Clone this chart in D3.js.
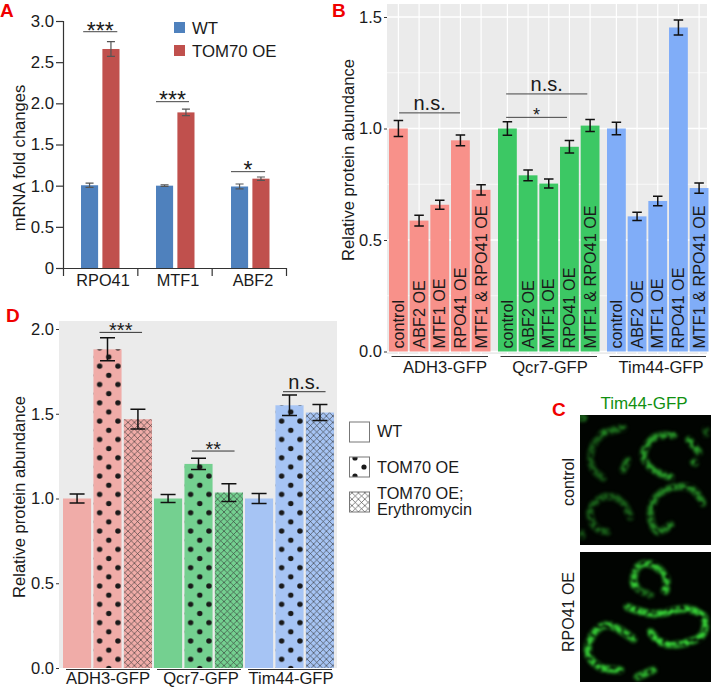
<!DOCTYPE html>
<html><head><meta charset="utf-8">
<script src="https://cdn.jsdelivr.net/npm/d3@7"></script>
<style>html,body{margin:0;padding:0;background:#fff}svg{display:block}text{font-family:"Liberation Sans",Arial,sans-serif;fill:#1a1a1a}</style>
</head><body><div id="chart"></div>
<script>
// ---------- data ----------
const aGroups = ["RPO41","MTF1","ABF2"];
const aSeries = ["WT","TOM70 OE"];
const aWT = [1.005,1.0,0.99];
const aWTErr = [0.025,0.01,0.03];
const aOE = [2.66,1.89,1.085];
const aOEErr = [0.09,0.04,0.02];
const aTicks = [0,0.5,1,1.5,2,2.5,3];
const aTickLabels = ["0","0.5","1.0","1.5","2.0","2.5","3.0"];
const aSig = [["RPO41",0.1,1.65,2.87,"***"],["MTF1",0,1.5,2.02,"***"],["ABF2",0,1.55,1.17,"*"]];

const proteins = ["ADH3-GFP","Qcr7-GFP","Tim44-GFP"];
const bCats = ["control","ABF2 OE","MTF1 OE","RPO41 OE","MTF1 & RPO41 OE"];
const bADH3 = [1.0,0.587,0.658,0.947,0.725];
const bADH3Err = [0.036,0.024,0.02,0.024,0.023];
const bQcr7 = [1.0,0.79,0.753,0.918,1.013];
const bQcr7Err = [0.03,0.024,0.02,0.028,0.027];
const bTim44 = [1.0,0.606,0.675,1.453,0.733];
const bTim44Err = [0.028,0.018,0.021,0.034,0.023];
const bColors = ["#F8918A","#3CC864","#80ADF8"];
const bSig = [["ADH3-GFP",0.5,3.5,1.07,"n.s."],["Qcr7-GFP",0.4,4.4,1.155,"n.s."],["Qcr7-GFP",0.4,3.4,1.05,"*"]];

const dCats = ["WT","TOM70 OE","TOM70 OE; Erythromycin"];
const dADH3 = [1.0,1.88,1.468];
const dADH3Err = [0.027,0.068,0.058];
const dQcr7 = [1.0,1.204,1.035];
const dQcr7Err = [0.024,0.033,0.052];
const dTim44 = [1.0,1.55,1.507];
const dTim44Err = [0.03,0.06,0.047];
const dColors = ["#F0ACA8","#74D090","#A6C4F4"];
const dSig = [["ADH3-GFP",1.2,2.6,1.98,"***"],["Qcr7-GFP",1.25,2.65,1.28,"**"],["Tim44-GFP",1.25,2.65,1.63,"n.s."]];

// fluorescence traces (image units 0-130 in each micrograph)
const cControl = [
 [[23,18],[12,33],[12,52],[23,63]],[[23,18],[34,15],[43,13]],[[43,55],[47,45]],
 [[108,25],[118,37]],[[113,47],[114,48]],[[93,20],[73,23],[63,40],[73,55],[90,62]],
 [[50,102],[40,85],[23,82],[10,95],[15,112],[27,117]],
 [[122,88],[110,73],[90,73],[75,83],[70,102],[77,117],[90,110]],
 [[125,15],[125,19]],[[1,3],[4,3]],[[2,118],[2,121]]
];
const cControlGain = [0.55,0.7,0.75,1,1,1,0.6,0.85,0.5,0.8,0.5];
const cRpo41 = [
 [[53,32],[57,15],[70,12],[85,25],[85,38]],[[70,43],[58,38]],[[54,33],[55,33]],[[84,38],[85,39]],
 [[47,55],[73,62],[107,57],[123,65],[122,82],[100,92],[80,90],[70,80]],
 [[53,87],[27,73],[13,82],[8,102],[20,115],[40,118]],
 [[57,125],[73,118]]
];
const cRpo41Gain = [0.9,0.5,1,1,1,0.95,0.9];

// ---------- helpers ----------
const W=711,H=687;
const svg=d3.select("#chart").append("svg").attr("width",W).attr("height",H);
const defs=svg.append("defs");
function letter(t,x,y){svg.append("text").attr("x",x).attr("y",y).attr("font-size",19).attr("font-weight","bold").style("fill","#F00000").text(t);}
function errorBars(g,pts,color,capW,sw){
  pts.forEach(p=>{
    g.append("path").attr("fill","none").attr("stroke",color).attr("stroke-width",sw)
     .attr("d",`M${p.x-capW/2},${p.yTop}H${p.x+capW/2}M${p.x},${p.yTop}V${p.yBot}M${p.x-capW/2},${p.yBot}H${p.x+capW/2}`);
  });
}
function yAxis(scale,ticks,labels,len,fs,color){
  const ax=d3.axisLeft(scale).tickValues(ticks).tickSize(len).tickPadding(2).tickFormat((d,i)=>labels[i]);
  return g=>{g.call(ax);g.selectAll("text").attr("font-size",fs).style("font-family",'"Liberation Sans",Arial,sans-serif');
    g.selectAll("line").attr("stroke",color);g.select(".domain").remove();};
}
function sigBrackets(list,xStart,step,y,color,fsStar,fsNs,sw){
  list.forEach(s=>{
    const x0=xStart(s[0])+s[1]*step,x1=xStart(s[0])+s[2]*step,yy=y(s[3]);
    svg.append("line").attr("x1",x0).attr("x2",x1).attr("y1",yy).attr("y2",yy).attr("stroke",color).attr("stroke-width",sw);
    const star=s[4]!=="n.s.";
    svg.append("text").attr("x",(x0+x1)/2).attr("y",star?yy+fsStar*0.6-7:yy-3).attr("text-anchor","middle")
       .attr("font-size",star?fsStar:fsNs).text(s[4]);
  });
}

// ---------- panel A ----------
letter("A",0,17);
const aY=d3.scaleLinear().domain([0,3]).range([268,21]);
const aX=d3.scalePoint().domain(aGroups).range([81,231]);
const aIn=d3.scaleBand().domain(aSeries).range([0,38.5]).paddingInner(0.2).paddingOuter(0);
const aCol=d3.scaleOrdinal().domain(aSeries).range(["#4F81BD","#C0504D"]);
const aG=svg.append("g");
const aRows=aGroups.flatMap((g,i)=>[{g,s:aSeries[0],v:aWT[i],e:aWTErr[i]},{g,s:aSeries[1],v:aOE[i],e:aOEErr[i]}]);
aG.selectAll("rect").data(aRows).join("rect")
  .attr("x",d=>aX(d.g)+aIn(d.s)).attr("width",aIn.bandwidth())
  .attr("y",d=>aY(d.v)).attr("height",d=>aY(0)-aY(d.v)).attr("fill",d=>aCol(d.s));
errorBars(aG,aRows.map(d=>({x:aX(d.g)+aIn(d.s)+aIn.bandwidth()/2,yTop:aY(d.v+d.e),yBot:aY(d.v-d.e)})),"#555",8,1.2);
svg.append("g").attr("transform","translate(63,0)").call(d3.axisLeft(aY).tickValues(aTicks).tickSize(7).tickPadding(2).tickFormat((d,i)=>aTickLabels[i]))
  .call(g=>{g.selectAll("text").attr("font-size",16.8).style("font-family",'"Liberation Sans",Arial,sans-serif');g.selectAll("line,path").attr("stroke","#333").attr("stroke-width",1.2);});
const aXT=d3.scaleLinear().domain([0,aGroups.length]).range([63,286]);
svg.append("g").attr("transform","translate(0,268)").call(d3.axisBottom(aXT).tickValues(d3.range(aGroups.length+1)).tickSize(8).tickSizeOuter(0).tickFormat(""))
  .call(g=>g.selectAll("line,path").attr("stroke","#333").attr("stroke-width",1.2));
svg.selectAll(".aLab").data(aGroups).join("text").attr("class","aLab").attr("x",d=>aX(d)+22).attr("y",286).attr("text-anchor","middle").attr("font-size",16.3).text(d=>d);
svg.append("text").attr("transform","translate(25,158) rotate(-90)").attr("text-anchor","middle").attr("font-size",16.6).text("mRNA fold changes");
aSeries.forEach((s,i)=>{
  svg.append("rect").attr("x",174).attr("y",22+i*23).attr("width",11).attr("height",11).attr("fill",aCol(s));
  svg.append("text").attr("x",192).attr("y",34+i*23).attr("font-size",16.8).text(s);
});
sigBrackets(aSig,g=>aX(g),22,aY,"#444",23,20,1);

// ---------- panel B ----------
letter("B",332,17);
const bY=d3.scaleLinear().domain([0,1.5]).range([351.5,17]);
const bX=d3.scalePoint().domain(proteins).range([389,607]);
const bIn=d3.scaleBand().domain(bCats).range([0,101.5]).paddingInner(0.09).paddingOuter(0);
const bG=svg.append("g");
bG.append("rect").attr("x",387).attr("y",4).attr("width",320).attr("height",350).attr("fill","#EBEBEB");
[0,0.25,0.5,0.75,1,1.25,1.5].forEach((v,i)=>bG.append("line").attr("x1",387).attr("x2",707).attr("y1",bY(v)).attr("y2",bY(v)).attr("stroke","#fff").attr("stroke-width",i%2?0.7:1.5));
const bVals=[bADH3,bQcr7,bTim44],bErrs=[bADH3Err,bQcr7Err,bTim44Err];
const bRows=proteins.flatMap((p,k)=>bCats.map((c,i)=>({p,c,k,v:bVals[k][i],e:bErrs[k][i]})));
bRows.forEach(d=>{const x=bX(d.p)+bIn(d.c)+bIn.bandwidth()/2;bG.append("line").attr("x1",x).attr("x2",x).attr("y1",4).attr("y2",354).attr("stroke","#fff").attr("stroke-width",1.2);});
bG.selectAll(".b").data(bRows).join("rect").attr("class","b")
  .attr("x",d=>bX(d.p)+bIn(d.c)).attr("width",bIn.bandwidth())
  .attr("y",d=>bY(d.v)).attr("height",d=>bY(0)-bY(d.v)).attr("fill",d=>bColors[d.k]);
errorBars(bG,bRows.map(d=>({x:bX(d.p)+bIn(d.c)+bIn.bandwidth()/2,yTop:bY(d.v+d.e),yBot:bY(d.v-d.e)})),"#111",9.5,1.5);
bRows.forEach(d=>{
  const x=bX(d.p)+bIn(d.c)+bIn.bandwidth()/2+5.5;
  svg.append("text").attr("transform",`translate(${x},348.5) rotate(-90)`).attr("font-size",16.2).text(d.c);
});
svg.append("g").attr("transform","translate(387,0)").call(yAxis(bY,[0,0.5,1,1.5],["0.0","0.5","1.0","1.5"],3,16.5,"#333"));
svg.append("text").attr("transform","translate(354,160) rotate(-90)").attr("text-anchor","middle").attr("font-size",16.6).text("Relative protein abundance");
proteins.forEach(p=>{
  const x=bX(p);
  svg.append("line").attr("x1",x+2.5).attr("x2",x+99).attr("y1",356.5).attr("y2",356.5).attr("stroke","#333").attr("stroke-width",1);
  svg.append("text").attr("x",x+ (p==="ADH3-GFP"?56:p==="Qcr7-GFP"?52:54)).attr("y",373).attr("text-anchor","middle").attr("font-size",16.6).text(p);
});
sigBrackets(bSig,g=>bX(g),20.3,bY,"#444",18,20,1);

// ---------- panel D ----------
letter("D",6,322);
const dY=d3.scaleLinear().domain([0,2]).range([668,329]);
const dX=d3.scalePoint().domain(proteins).range([63,245]);
const dIn=d3.scaleBand().domain(dCats).range([0,89]).paddingInner(0.075).paddingOuter(0);
const dG=svg.append("g");
dG.append("rect").attr("x",59).attr("y",321).attr("width",278).attr("height",347).attr("fill","#EBEBEB");
const dVals=[dADH3,dQcr7,dTim44],dErrs=[dADH3Err,dQcr7Err,dTim44Err];
const dRows=proteins.flatMap((p,k)=>dCats.map((c,i)=>({p,c,k,i,v:dVals[k][i],e:dErrs[k][i]})));
const hatch=defs.append("pattern").attr("id","hatch").attr("patternUnits","userSpaceOnUse").attr("width",6.4).attr("height",6.4);
hatch.append("path").attr("d","M0,0L6.4,6.4M6.4,0L0,6.4").attr("stroke","#333").attr("stroke-width",0.6).attr("fill","none");
const P=18.32;
dRows.filter(d=>d.i===1).forEach(d=>{
  const x=dX(d.p)+dIn(d.c);
  const pat=defs.append("pattern").attr("id","dots"+d.k).attr("patternUnits","userSpaceOnUse")
    .attr("width",P).attr("height",P).attr("x",x+6.2).attr("y",dY(0)-8.7);
  [[0,0],[P,0],[0,P],[P,P],[P/2,P/2]].forEach(c=>pat.append("circle").attr("cx",c[0]).attr("cy",c[1]).attr("r",2.7).attr("fill","#1a1a1a"));
});
dRows.forEach(d=>{
  const sel=()=>dG.append("rect").attr("x",dX(d.p)+dIn(d.c)).attr("width",dIn.bandwidth()).attr("y",dY(d.v)).attr("height",dY(0)-dY(d.v));
  sel().attr("fill",dColors[d.k]);
  if(d.i===1) sel().attr("fill",`url(#dots${d.k})`);
  if(d.i===2) sel().attr("fill","url(#hatch)");
});
errorBars(dG,dRows.map(d=>({x:dX(d.p)+dIn(d.c)+dIn.bandwidth()/2,yTop:dY(d.v+d.e),yBot:dY(d.v-d.e)})),"#111",15,1.5);
svg.append("g").attr("transform","translate(59,0)").call(yAxis(dY,[0,0.5,1,1.5,2],["0.0","0.5","1.0","1.5","2.0"],3,16.5,"#333"));
svg.append("text").attr("transform","translate(25,497) rotate(-90)").attr("text-anchor","middle").attr("font-size",16.6).text("Relative protein abundance");
proteins.forEach(p=>{
  const x=dX(p);
  svg.append("line").attr("x1",x+3).attr("x2",x+87).attr("y1",669.5).attr("y2",669.5).attr("stroke","#333").attr("stroke-width",1);
  svg.append("text").attr("x",x+ (p==="ADH3-GFP"?45:p==="Qcr7-GFP"?47:46)).attr("y",683.5).attr("text-anchor","middle").attr("font-size",16.6).text(p);
});
sigBrackets(dSig,g=>dX(g),30.4,dY,"#333",20,20,1);

// legend D
const lg=svg.append("g");
const legendY=[422,457,492];
defs.append("clipPath").attr("id","lgClip").append("rect").attr("x",349.5).attr("y",457).attr("width",20).attr("height",20);
legendY.forEach((y,i)=>{
  lg.append("rect").attr("x",349.5).attr("y",y).attr("width",20).attr("height",20).attr("fill","#fff");
  if(i===1){
    const cg=lg.append("g").attr("clip-path","url(#lgClip)");
    [[355,458],[364,467],[355,476]].forEach(p=>cg.append("circle").attr("cx",p[0]).attr("cy",p[1]).attr("r",2.6).attr("fill","#1a1a1a"));
  }
  if(i===2) lg.append("rect").attr("x",349.5).attr("y",y).attr("width",20).attr("height",20).attr("fill","url(#hatch)");
  lg.append("rect").attr("x",349.5).attr("y",y).attr("width",20).attr("height",20).attr("fill","none").attr("stroke","#777").attr("stroke-width",1);
});
[["WT",437],["TOM70 OE",473],["TOM70 OE;",499],["Erythromycin",515]].forEach(t=>
  lg.append("text").attr("x",377).attr("y",t[1]).attr("font-size",16.3).text(t[0]));

// ---------- panel C ----------
letter("C",552,416);
svg.append("text").attr("x",644).attr("y",409).attr("text-anchor","middle").attr("font-size",17).style("fill","#119011").text("Tim44-GFP");
const f=defs.append("filter").attr("id","speckle").attr("x","-10%").attr("y","-10%").attr("width","120%").attr("height","120%").attr("color-interpolation-filters","sRGB");
f.append("feGaussianBlur").attr("in","SourceGraphic").attr("stdDeviation",1.4).attr("result","b");
f.append("feTurbulence").attr("type","fractalNoise").attr("baseFrequency",0.22).attr("numOctaves",1).attr("seed",7).attr("result","n");
f.append("feColorMatrix").attr("in","n").attr("type","matrix").attr("values","0 0 0 0 0  0 0 0 0 0  0 0 0 0 0  3.2 0 0 0 -0.75").attr("result","m");
f.append("feComposite").attr("in","b").attr("in2","m").attr("operator","in").attr("result","c");
f.append("feGaussianBlur").attr("in","c").attr("stdDeviation",0.8);
const mx=d3.scaleLinear().domain([0,130]).range([0,131]);
const my=d3.scaleLinear().domain([0,130]).range([0,130]);
const trace=d3.line().x(d=>mx(d[0])).y(d=>my(d[1])).curve(d3.curveCatmullRom);
function micro(list,gain,y,color,wid,lab,labY){
  const cid="clip"+y;
  defs.append("clipPath").attr("id",cid).append("rect").attr("width",131).attr("height",130);
  const g=svg.append("g").attr("transform",`translate(580,${y})`);
  g.append("rect").attr("width",131).attr("height",130).attr("fill","#010401");
  const inner=g.append("g").attr("clip-path",`url(#${cid})`).append("g").attr("filter","url(#speckle)");
  list.forEach((t,i)=>{
    inner.append("path").attr("d",trace(t)).attr("fill","none").attr("stroke",color).attr("stroke-opacity",gain[i])
      .attr("stroke-width",wid).attr("stroke-linecap","round");
  });
  svg.append("text").attr("transform",`translate(574,${labY}) rotate(-90)`).attr("text-anchor","middle").attr("font-size",16).text(lab);
}
micro(cControl,cControlGain,415,"#2A9E2A",6.5,"control",482);
micro(cRpo41,cRpo41Gain,552,"#38D838",6.5,"RPO41 OE",612);
</script></body></html>
